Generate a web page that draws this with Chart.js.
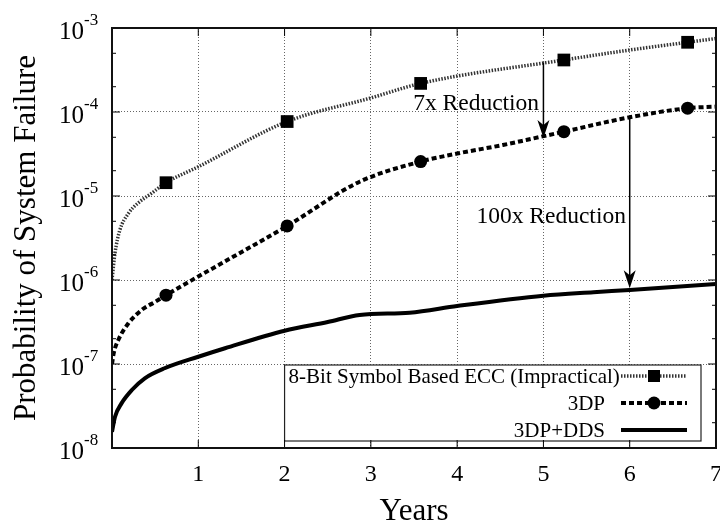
<!DOCTYPE html>
<html>
<head>
<meta charset="utf-8">
<script src="https://cdn.jsdelivr.net/npm/chart.js@4.4.1/dist/chart.umd.min.js"></script>
<style>
  html, body { margin: 0; padding: 0; background: #fff; }
  #wrap { width: 720px; height: 523px; }
</style>
</head>
<body>
<div id="wrap"><canvas id="chart"></canvas></div>
<script>
// ── values ──────────────────────────────────────────────────
// 8-Bit Symbol Based ECC (Impractical)
const eccYears   = [0, 0.035, 0.09, 0.19, 0.3, 0.46, 0.626, 1, 2.03, 3, 3.577, 5.237, 6, 6.671, 7];
const eccProb    = [1.0e-6, 2.1e-6, 3.9e-6, 6.2e-6, 8.2e-6, 1.08e-5, 1.44e-5, 2.23e-5, 7.7e-5, 1.47e-4, 2.19e-4, 4.16e-4, 5.47e-4, 6.76e-4, 7.5e-4];
const eccMarkers = [0.626, 2.03, 3.577, 5.237, 6.671];

// 3DP
const tdpYears   = [0, 0.02, 0.073, 0.19, 0.344, 0.5, 0.626, 1, 2.03, 2.87, 3.577, 4, 4.53, 4.8, 5.237, 6, 6.671, 7];
const tdpProb    = [1.0e-7, 1.35e-7, 1.93e-7, 3.05e-7, 4.4e-7, 5.5e-7, 6.6e-7, 1.1e-6, 4.4e-6, 1.48e-5, 2.57e-5, 3.2e-5, 4.05e-5, 4.64e-5, 5.83e-5, 8.65e-5, 1.11e-4, 1.16e-4];
const tdpMarkers = [0.626, 2.03, 3.577, 5.237, 6.671];

// 3DP+DDS
const ddsYears   = [0, 0.035, 0.11, 0.23, 0.38, 0.61, 1, 1.31, 2, 2.5, 2.87, 3.45, 4, 5, 5.58, 6, 7];
const ddsProb    = [1.56e-8, 2.36e-8, 3.4e-8, 4.9e-8, 6.76e-8, 8.9e-8, 1.22e-7, 1.54e-7, 2.49e-7, 3.16e-7, 3.83e-7, 4.08e-7, 4.9e-7, 6.5e-7, 7.15e-7, 7.6e-7, 8.95e-7];

const seriesNames    = ['8-Bit Symbol Based ECC (Impractical)', '3DP', '3DP+DDS'];
const xTickValues    = [1, 2, 3, 4, 5, 6, 7];
const yTickExponents = [-8, -7, -6, -5, -4, -3];

// reduction arrows and their notes
const arrowYears = [5, 6];
const arrowFrom  = [3.9e-4, 8.65e-5];
const arrowTo    = [4.9e-5, 8.0e-7];
const noteTexts  = ['7x Reduction', '100x Reduction'];
const noteYears  = [4.95, 5.09];
const noteProbs  = [1.25e-4, 5.7e-6];
const noteAlign  = ['right', 'center'];

// ── look ───────────────────────────────────────────────────
const SERIF = '"Liberation Serif", "Times New Roman", serif';
const styles = [
    { color: '#333', width: 3.5, dash: [1.5, 1.5], point: 'rect',   radius: 9 },
    { color: '#000', width: 4,   dash: [5, 3],     point: 'circle', radius: 6.5 },
    { color: '#000', width: 4,   dash: [],         point: false,    radius: 0 }
];

const toPoints = (xs, ys) => xs.map((x, i) => ({ x, y: ys[i] }));
const markerRadius = (marks, r) => ctx => {
    const p = ctx.raw;
    return p && marks.includes(p.x) ? r : 0;
};

const dataSets = [
    { pts: toPoints(eccYears, eccProb), marks: eccMarkers },
    { pts: toPoints(tdpYears, tdpProb), marks: tdpMarkers },
    { pts: toPoints(ddsYears, ddsProb), marks: [] }
].map((d, i) => ({
    label: seriesNames[i],
    data: d.pts,
    borderColor: styles[i].color,
    borderWidth: styles[i].width,
    borderDash: styles[i].dash,
    backgroundColor: '#000',
    pointStyle: styles[i].point || 'circle',
    pointRadius: markerRadius(d.marks, styles[i].radius),
    pointBorderWidth: 0,
    pointBackgroundColor: '#000',
    cubicInterpolationMode: 'monotone',
    fill: false
}));

// gnuplot-style frame, ticks, key, arrows and labels
const gnuplotDecor = {
    id: 'gnuplotDecor',
    afterDatasetsDraw(chart) {
        const { ctx, chartArea: a, scales: { x, y } } = chart;
        ctx.save();

        // key box (white, over the grid)
        const keyL = x.getPixelForValue(2), keyR = a.right - 15;
        const keyT = a.bottom - 83, keyB = a.bottom - 7;
        ctx.fillStyle = '#fff';
        ctx.fillRect(keyL, keyT, keyR - keyL, keyB - keyT);
        ctx.strokeStyle = '#222';
        ctx.lineWidth = 1.2;
        ctx.setLineDash([]);
        ctx.strokeRect(keyL, keyT, keyR - keyL, keyB - keyT);

        const sampleL = keyR - 80, sampleR = keyR - 14;
        ctx.font = '21px ' + SERIF;
        ctx.textBaseline = 'middle';
        ctx.textAlign = 'right';
        seriesNames.forEach((name, i) => {
            const cy = keyT + 11 + i * 27;
            const st = styles[i];
            const w = ctx.measureText(name).width;
            const tx = Math.max(sampleL - 16, keyL + 4 + w);
            ctx.fillStyle = '#000';
            ctx.fillText(name, tx, cy + 1);
            ctx.beginPath();
            ctx.strokeStyle = st.color;
            ctx.lineWidth = st.width;
            ctx.setLineDash(st.dash);
            ctx.moveTo(sampleL, cy);
            ctx.lineTo(sampleR, cy);
            ctx.stroke();
            ctx.setLineDash([]);
            const mx = (sampleL + sampleR) / 2;
            ctx.fillStyle = '#000';
            if (st.point === 'rect') ctx.fillRect(mx - 6, cy - 6, 12, 12);
            if (st.point === 'circle') { ctx.beginPath(); ctx.arc(mx, cy, 6.5, 0, Math.PI * 2); ctx.fill(); }
        });

        // tick marks (inward on all sides)
        ctx.strokeStyle = '#000';
        ctx.lineWidth = 1;
        ctx.beginPath();
        yTickExponents.forEach(e => {
            const py = y.getPixelForValue(Math.pow(10, e));
            ctx.moveTo(a.left, py);  ctx.lineTo(a.left + 8, py);
            ctx.moveTo(a.right, py); ctx.lineTo(a.right - 8, py);
            if (e < -3) {
                [2, 5].forEach(m => {
                    const pm = y.getPixelForValue(m * Math.pow(10, e));
                    ctx.moveTo(a.left, pm);  ctx.lineTo(a.left + 4, pm);
                    ctx.moveTo(a.right, pm); ctx.lineTo(a.right - 4, pm);
                });
            }
        });
        xTickValues.forEach(v => {
            const px = x.getPixelForValue(v);
            ctx.moveTo(px, a.bottom); ctx.lineTo(px, a.bottom - 8);
            ctx.moveTo(px, a.top);    ctx.lineTo(px, a.top + 8);
        });
        ctx.stroke();

        // border
        ctx.strokeStyle = '#111';
        ctx.lineWidth = 2;
        ctx.strokeRect(a.left, a.top, a.right - a.left, a.bottom - a.top);

        // arrows
        arrowYears.forEach((v, i) => {
            const px = x.getPixelForValue(v);
            const y0 = y.getPixelForValue(arrowFrom[i]);
            const y1 = y.getPixelForValue(arrowTo[i]);
            ctx.strokeStyle = '#000';
            ctx.lineWidth = 1.5;
            ctx.beginPath();
            ctx.moveTo(px, y0);
            ctx.lineTo(px, y1 - 12);
            ctx.stroke();
            ctx.fillStyle = '#000';
            ctx.beginPath();
            ctx.moveTo(px, y1);
            ctx.lineTo(px - 6, y1 - 18);
            ctx.lineTo(px, y1 - 13);
            ctx.lineTo(px + 6, y1 - 18);
            ctx.closePath();
            ctx.fill();
        });

        // notes
        ctx.font = '23.5px ' + SERIF;
        ctx.textBaseline = 'middle';
        ctx.fillStyle = '#000';
        noteTexts.forEach((t, i) => {
            ctx.textAlign = noteAlign[i];
            ctx.fillText(t, x.getPixelForValue(noteYears[i]), y.getPixelForValue(noteProbs[i]));
        });

        // tick labels
        ctx.textBaseline = 'alphabetic';
        yTickExponents.forEach(e => {
            const py = y.getPixelForValue(Math.pow(10, e));
            ctx.textAlign = 'right';
            ctx.font = '25px ' + SERIF;
            ctx.fillText('10', 84, py + 11);
            ctx.textAlign = 'left';
            ctx.font = '17px ' + SERIF;
            ctx.fillText(String(e), 84, py - 3);
        });
        ctx.textAlign = 'center';
        ctx.font = '24px ' + SERIF;
        xTickValues.forEach(v => {
            ctx.fillText(String(v), x.getPixelForValue(v), a.bottom + 33);
        });

        // axis titles
        ctx.font = '31px ' + SERIF;
        ctx.fillText('Years', (a.left + a.right) / 2, a.bottom + 72);
        ctx.save();
        ctx.translate(35, (a.top + a.bottom) / 2);
        ctx.rotate(-Math.PI / 2);
        ctx.fillText('Probability of System Failure', 0, 0);
        ctx.restore();

        ctx.restore();
    }
};

const gridColor = (skip) => c => (c.tick && skip.includes(c.tick.value)) ? 'rgba(0,0,0,0)' : '#666';

new Chart(document.getElementById('chart'), {
    type: 'line',
    data: { datasets: dataSets },
    options: {
        responsive: true,
        maintainAspectRatio: false,
        animation: false,
        events: [],
        layout: { padding: { left: 0, right: 4, top: 28, bottom: 0 } },
        plugins: {
            legend: { display: false },
            tooltip: { enabled: false }
        },
        scales: {
            x: {
                type: 'linear',
                min: 0, max: 7,
                ticks: { display: false, stepSize: 1 },
                border: { display: false, dash: [1, 2] },
                grid: { color: gridColor([0, 7]), lineWidth: 1, drawTicks: false },
                afterFit: s => { s.height = 75; }
            },
            y: {
                type: 'logarithmic',
                min: 1e-8, max: 1e-3,
                ticks: { display: false },
                border: { display: false, dash: [1, 2] },
                grid: { color: gridColor([1e-8, 1e-3]), lineWidth: 1, drawTicks: false },
                afterBuildTicks: s => { s.ticks = yTickExponents.map(e => ({ value: Math.pow(10, e) })); },
                afterFit: s => { s.width = 112; }
            }
        }
    },
    plugins: [gnuplotDecor]
});
</script>
</body>
</html>
